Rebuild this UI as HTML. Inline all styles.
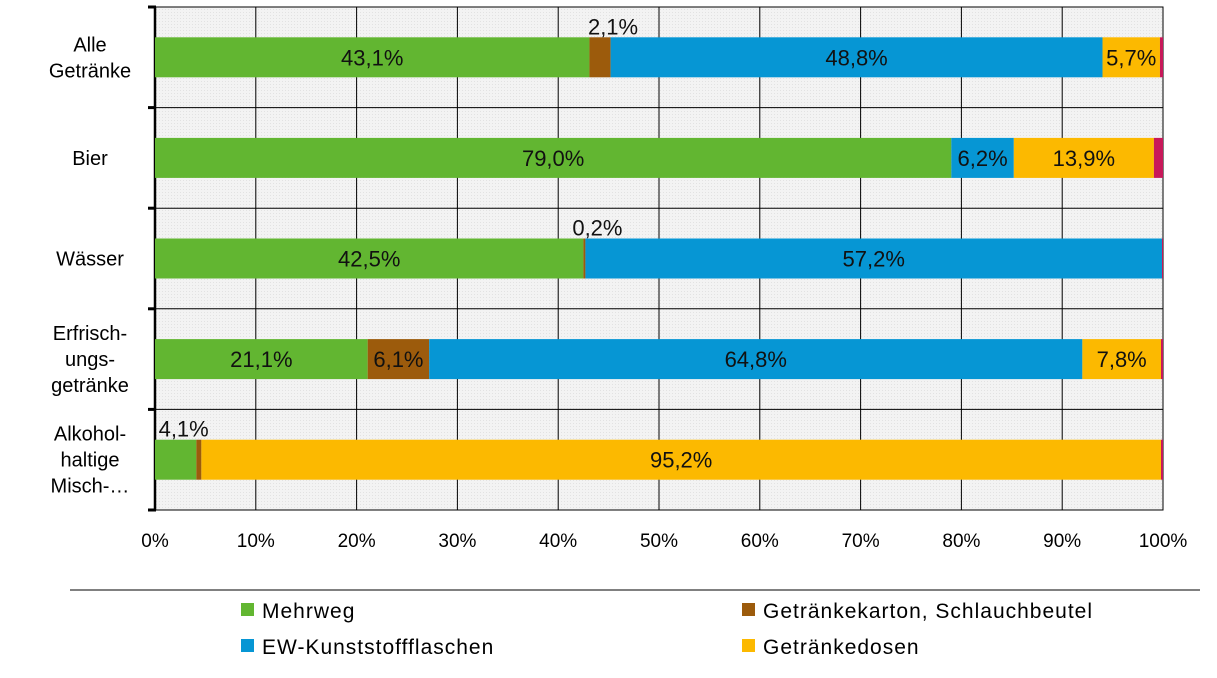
<!DOCTYPE html>
<html><head><meta charset="utf-8">
<style>
html,body{margin:0;padding:0;background:#fff;}
body{width:1217px;height:673px;overflow:hidden;font-family:"Liberation Sans",sans-serif;}
svg text{font-family:"Liberation Sans",sans-serif;}
</style></head>
<body>
<svg id="chart" width="1217" height="673" viewBox="0 0 1217 673" xmlns="http://www.w3.org/2000/svg">
<defs>
<pattern id="dots" width="3" height="3" patternUnits="userSpaceOnUse">
<rect width="3" height="3" fill="#f3f3f3"/><rect width="1" height="1" fill="#e2e2e2"/>
</pattern>
</defs>
<g id="plot"></g>
<g id="legend">
<line x1="70" y1="590" x2="1200" y2="590" stroke="#000" stroke-width="1"/>
<rect x="241" y="603" width="13" height="13" fill="#62b631"/>
<text x="262" y="618" font-size="21" letter-spacing="1">Mehrweg</text>
<rect x="742" y="603" width="13" height="13" fill="#9c5b0c"/>
<text x="763" y="618" font-size="21" letter-spacing="1">Getränkekarton, Schlauchbeutel</text>
<rect x="241" y="639" width="13" height="13" fill="#0696d4"/>
<text x="262" y="654" font-size="21" letter-spacing="1">EW-Kunststoffflaschen</text>
<rect x="742" y="639" width="13" height="13" fill="#fcb900"/>
<text x="763" y="654" font-size="21" letter-spacing="1">Getränkedosen</text>
</g>
</svg>
<script>
const categories = [["Alle","Getränke"],["Bier"],["Wässer"],["Erfrisch-","ungs-","getränke"],["Alkohol-","haltige","Misch-…"]];
const mehrweg = [43.1, 79.0, 42.5, 21.1, 4.1];
const karton = [2.1, 0, 0.2, 6.1, 0.5];
const kunststoff = [48.8, 6.2, 57.2, 64.8, 0];
const dosen = [5.7, 13.9, 0, 7.8, 95.2];
const sonstige = [0.3, 0.9, 0.1, 0.2, 0.2];
const showLabel = [[1,1,1,1,0],[1,0,1,1,0],[1,1,1,0,0],[1,1,1,1,0],[1,0,0,1,0]];
const xTicks = [0,10,20,30,40,50,60,70,80,90,100];
const series = [
 {name:"mehrweg", vals:mehrweg, color:"#62b631"},
 {name:"karton", vals:karton, color:"#9c5b0c"},
 {name:"kunststoff", vals:kunststoff, color:"#0696d4"},
 {name:"dosen", vals:dosen, color:"#fcb900"},
 {name:"sonstige", vals:sonstige, color:"#c8185a"}
];
const NS="http://www.w3.org/2000/svg";
const L=155, R=1163, T=7, B=510;
const band=(B-T)/categories.length;
const xs=v=>L+(R-L)*v/100;
const yc=i=>T+band*(i+0.5);
const g=document.getElementById('plot');
function mk(tag,attrs){const e=document.createElementNS(NS,tag);for(const k in attrs)e.setAttribute(k,attrs[k]);g.appendChild(e);return e;}
const fmt=v=>v.toFixed(1).replace('.',',')+'%';

let bg=mk('rect',{x:L,y:T,width:R-L,height:B-T,fill:'url(#dots)',stroke:'#000','stroke-width':1});


xTicks.forEach(t=>{
 if(t>0&&t<100){let l=mk('line',{x1:xs(t),y1:T,x2:xs(t),y2:B,stroke:'#000','stroke-width':1});
 
 }
 let tx=mk('text',{x:xs(t),y:547,'font-size':19,'text-anchor':'middle'});
 tx.textContent=t+'%';
 
 
});
for(let i=0;i<=categories.length;i++){
 const y=T+band*i;
 let l=mk('line',{x1:148,y1:y,x2:R,y2:y,stroke:'#000','stroke-width':1});
 
 
 let tk=mk('line',{x1:148,y1:y,x2:156,y2:y,stroke:'#000','stroke-width':3});
 
 
}
let ax=mk('line',{x1:L,y1:T,x2:L,y2:B,stroke:'#000','stroke-width':2.5});



categories.forEach((lines,i)=>{
 const cy=yc(i), lh=26;
 const t=mk('text',{x:90,'font-size':20,'text-anchor':'middle'});
 
 
 lines.forEach((s,j)=>{const sp=document.createElementNS(NS,'tspan');sp.setAttribute('x',90);sp.setAttribute('y',cy+7+(j-(lines.length-1)/2)*lh);sp.textContent=s;t.appendChild(sp);});
 let acc=0;
 series.forEach((s,k)=>{
  const v=s.vals[i];
  if(v>0){
   const w=xs(acc+v)-xs(acc);
   const r=mk('rect',{x:xs(acc),y:cy-20,width:w,height:40,fill:s.color});
   
   
   if(showLabel[i][k]){
    const small=w<45;
    let lx=(xs(acc)+xs(acc+v))/2;
    if(small) lx = s.name==='mehrweg' ? xs(acc)+w/2+8 : xs(acc)+w/2+13;
    const lb=mk('text',{x:lx,y:small?cy-23:cy+8,'font-size':22,'text-anchor':'middle',fill:'#111'});
    lb.textContent=fmt(v);
    
    
   }
  }
  acc+=v;
 });
});
</script>
</body></html>
